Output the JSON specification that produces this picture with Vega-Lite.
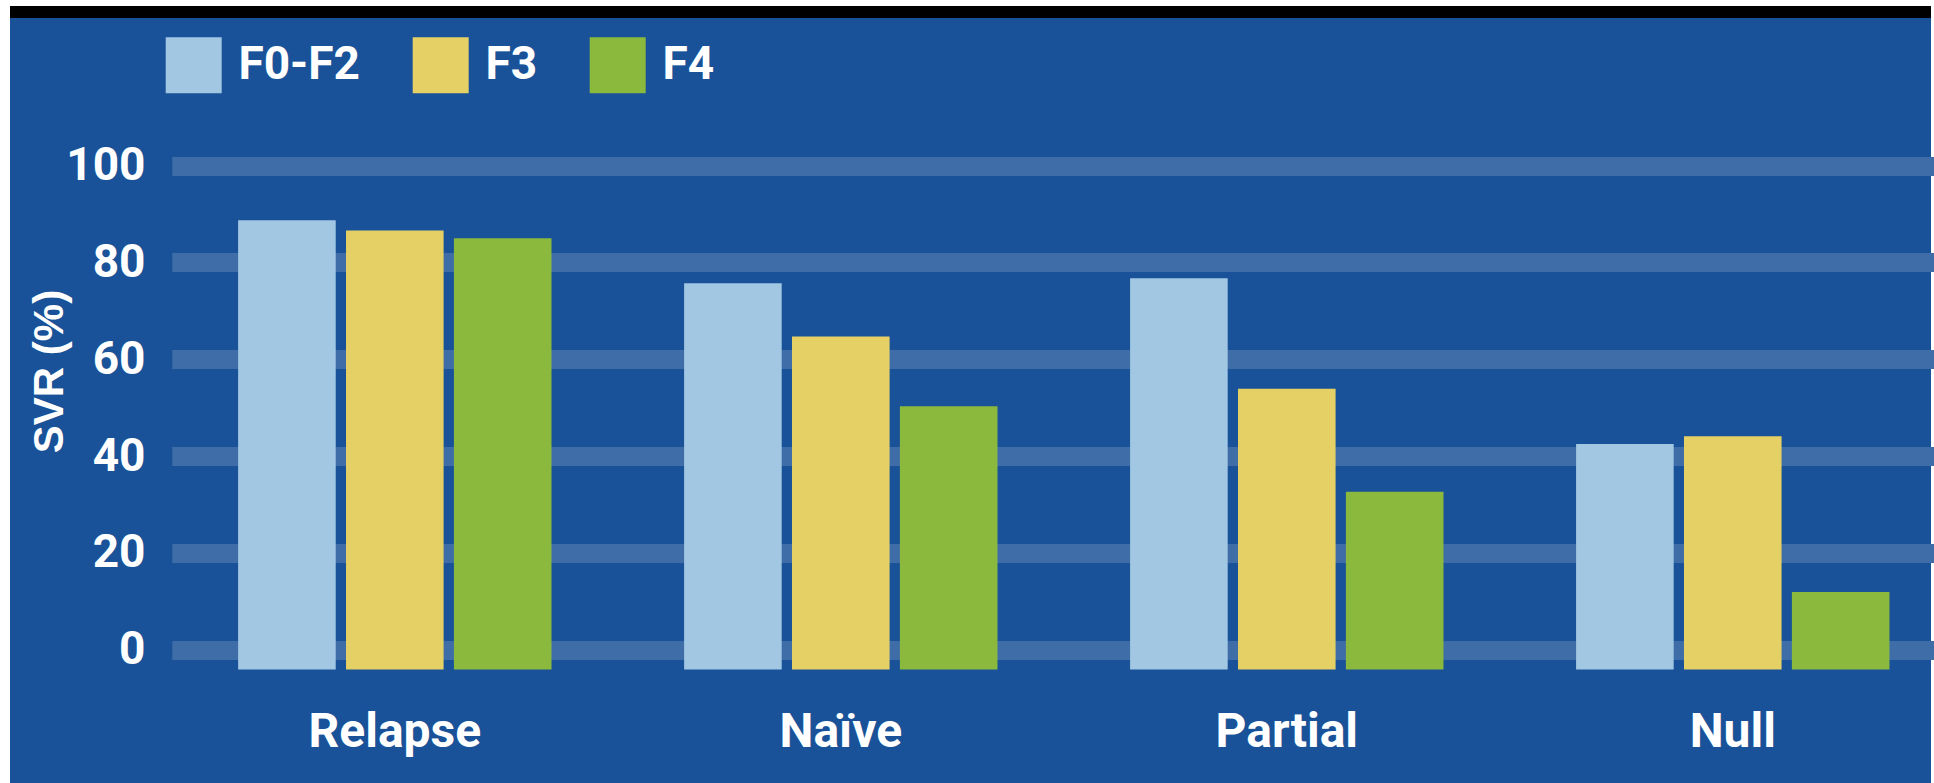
{
  "$schema": "https://vega.github.io/schema/vega-lite/v6.json",
  "width": 1921,
  "height": 771,
  "autosize": {"type": "none"},
  "padding": {"left": 10, "top": 12, "right": 3, "bottom": 0},
  "background": "#ffffff",
  "config": {
    "view": {"fill": "#195298", "stroke": "#000000", "strokeWidth": 12, "strokeDash": [1921, 6000]},
    "axis": {"labelOverlap": false}
  },
  "data": {
    "values": [
      {"group": "Relapse", "stage": "F0-F2", "svr": 88.7},
      {"group": "Relapse", "stage": "F3", "svr": 86.6},
      {"group": "Relapse", "stage": "F4", "svr": 85.0},
      {"group": "Naïve", "stage": "F0-F2", "svr": 75.7},
      {"group": "Naïve", "stage": "F3", "svr": 64.7},
      {"group": "Naïve", "stage": "F4", "svr": 50.3},
      {"group": "Partial", "stage": "F0-F2", "svr": 76.7},
      {"group": "Partial", "stage": "F3", "svr": 53.9},
      {"group": "Partial", "stage": "F4", "svr": 32.6},
      {"group": "Null", "stage": "F0-F2", "svr": 42.5},
      {"group": "Null", "stage": "F3", "svr": 44.1},
      {"group": "Null", "stage": "F4", "svr": 11.9}
    ]
  },
  "mark": {"type": "bar", "strokeWidth": 0},
  "encoding": {
    "x": {
      "field": "group",
      "type": "nominal",
      "sort": ["Relapse", "Naïve", "Partial", "Null"],
      "scale": {"range": [161.8, 1945.8], "paddingInner": 0.2973, "paddingOuter": 0.1487},
      "axis": {
        "orient": "bottom",
        "offset": -113,
        "title": null,
        "domain": false,
        "ticks": false,
        "grid": false,
        "labelAngle": 0,
        "labelPadding": 76.7,
        "labelBaseline": "alphabetic",
        "labelLimit": 600,
        "labelFont": "Roboto, 'Liberation Sans', sans-serif",
        "labelFontSize": 48,
        "labelFontWeight": "bold",
        "labelColor": "#ffffff"
      }
    },
    "xOffset": {
      "field": "stage",
      "type": "nominal",
      "sort": ["F0-F2", "F3", "F4"],
      "scale": {"paddingInner": 0.0955, "paddingOuter": 0}
    },
    "y": {
      "field": "svr",
      "type": "quantitative",
      "scale": {"domain": [0, 100], "range": [637.7, 153.5], "nice": false},
      "axis": {
        "orient": "left",
        "offset": -150,
        "values": [0, 20, 40, 60, 80, 100],
        "domain": false,
        "ticks": false,
        "grid": true,
        "gridColor": "#3f6da8",
        "gridWidth": 19,
        "gridOpacity": 1,
        "gridDash": [1768, 2000],
        "labelPadding": 15,
        "labelBaseline": "middle",
        "labelFont": "Roboto, 'Liberation Sans', sans-serif",
        "labelFontSize": 46,
        "labelFontWeight": "bold",
        "labelColor": "#ffffff",
        "title": "SVR (%)",
        "titleFont": "'Liberation Sans', Arial, sans-serif",
        "titleFontSize": 42,
        "titleFontWeight": "bold",
        "titleColor": "#ffffff",
        "titleAngle": -90,
        "titleAlign": "center",
        "titleBaseline": "alphabetic",
        "titleX": -98,
        "titleY": 359
      }
    },
    "y2": {"datum": -4.1},
    "color": {
      "field": "stage",
      "type": "nominal",
      "scale": {"domain": ["F0-F2", "F3", "F4"], "range": ["#a2c7e3", "#e4d064", "#8bb93e"]},
      "legend": {
        "title": null,
        "orient": "none",
        "direction": "horizontal",
        "legendX": 155.7,
        "legendY": 25.3,
        "symbolType": "square",
        "symbolSize": 3136,
        "symbolStrokeWidth": 0,
        "symbolOpacity": 1,
        "labelFont": "Roboto, 'Liberation Sans', sans-serif",
        "labelFontSize": 46,
        "labelFontWeight": "bold",
        "labelColor": "#ffffff",
        "labelOffset": 16.7,
        "labelLimit": 600,
        "columnPadding": 52,
        "padding": 0
      }
    }
  }
}
